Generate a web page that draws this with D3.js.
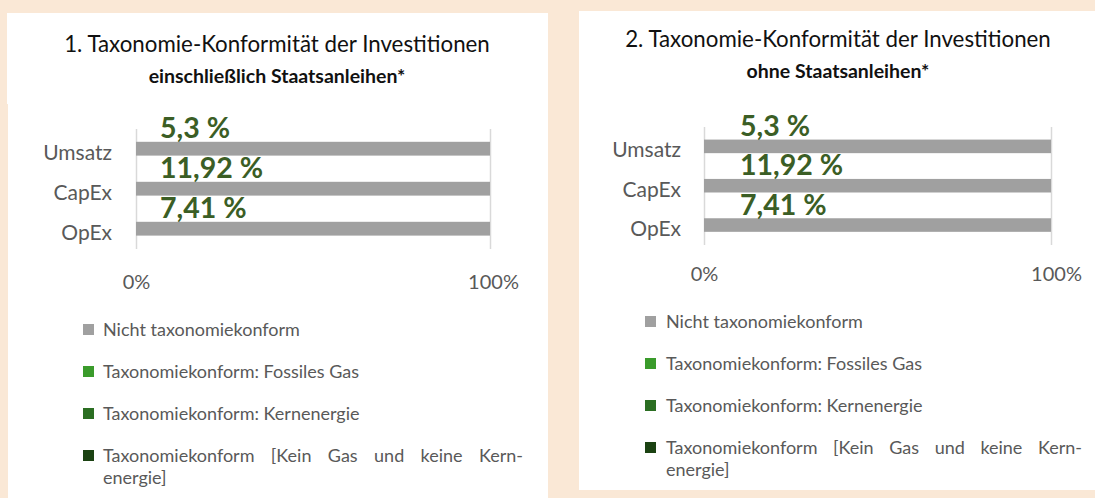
<!DOCTYPE html>
<html>
<head>
<meta charset="utf-8">
<script src="https://cdn.jsdelivr.net/npm/d3@7"></script>
<style>
  body { margin: 0; background: #fae8d6; }
  svg { display: block; font-family: Lato, "Open Sans", sans-serif; }
</style>
</head>
<body>
<svg id="chart" width="1095" height="498"></svg>
<script>
// chart data
const categories = ['Umsatz', 'CapEx', 'OpEx'];
const seriesKeys = ['nicht', 'gas', 'kern', 'rest'];
const nichtKonform = [100, 100, 100];
const fossilesGas = [0, 0, 0];
const kernenergie = [0, 0, 0];
const keinGasKern = [0, 0, 0];
const alignedLabels = ['5,3 %', '11,92 %', '7,41 %'];
const tickValues = [0, 100];
const legendLines = [
	['Nicht taxonomiekonform'],
	['Taxonomiekonform: Fossiles Gas'],
	['Taxonomiekonform: Kernenergie'],
	['Taxonomiekonform [Kein Gas und keine Kern-', 'energie]']
];
const titleLeft = ['1. Taxonomie-Konformität der Investitionen', 'einschließlich Staatsanleihen*'];
const titleRight = ['2. Taxonomie-Konformität der Investitionen', 'ohne Staatsanleihen*'];

const colors = ['#a0a0a0', '#3a9b2b', '#2b6e22', '#1b4212'];
const textGray = '#595959';

const rows = categories.map((c, i) => ({
	cat: c,
	nicht: nichtKonform[i],
	gas: fossilesGas[i],
	kern: kernenergie[i],
	rest: keinGasKern[i]
}));
const stacked = d3.stack().keys(seriesKeys)(rows);

const svg = d3.select('#chart');

function drawPanel(o) {
	const g = svg.append('g');

	// white boxes
	o.boxes.forEach(b => {
		g.append('rect')
			.attr('x', b[0]).attr('y', b[1])
			.attr('width', b[2] - b[0]).attr('height', b[3] - b[1])
			.attr('fill', '#fff');
	});

	// title
	g.append('text')
		.attr('x', o.cx).attr('y', o.titleY[0])
		.attr('text-anchor', 'middle')
		.attr('font-size', 22.3)
		.attr('fill', '#111')
		.text(o.title[0]);
	g.append('text')
		.attr('x', o.cx).attr('y', o.titleY[1])
		.attr('text-anchor', 'middle')
		.attr('font-size', 19.5)
		.attr('font-weight', 'bold')
		.attr('fill', '#111')
		.text(o.title[1]);

	const x = d3.scaleLinear().domain([0, 100]).range(o.xRange);
	const y = d3.scaleBand().domain(categories).range(o.yRange);
	const bw = y.bandwidth();

	// grid + tick labels
	const axis = g.append('g')
		.attr('transform', `translate(0,${o.yRange[1]})`)
		.call(d3.axisBottom(x)
			.tickValues(tickValues)
			.tickFormat(d => d + '%')
			.tickSize(-(o.yRange[1] - o.yRange[0]))
			.tickPadding(o.tickPad));
	axis.select('.domain').remove();
	axis.selectAll('line').attr('stroke', '#d9d9d9').attr('stroke-width', 1.5);
	axis.selectAll('text')
		.attr('font-size', 20)
		.attr('font-family', 'Lato, sans-serif')
		.attr('fill', textGray)
		.attr('dx', d => d === 100 ? o.tickShift : 0);

	// bars
	g.append('g').selectAll('g')
		.data(stacked)
		.join('g')
		.attr('fill', (d, i) => colors[i])
		.selectAll('rect')
		.data(d => d)
		.join('rect')
		.attr('x', d => x(d[0]))
		.attr('width', d => x(d[1]) - x(d[0]))
		.attr('y', d => y(d.data.cat) + bw * 0.32)
		.attr('height', bw * 0.345);

	// category labels
	g.append('g').selectAll('text')
		.data(categories)
		.join('text')
		.attr('x', o.catX)
		.attr('y', d => y(d) + bw * 0.77)
		.attr('text-anchor', 'end')
		.attr('font-size', 21)
		.attr('fill', textGray)
		.text(d => d);

	// value labels
	g.append('g').selectAll('text')
		.data(alignedLabels)
		.join('text')
		.attr('x', o.labelX)
		.attr('y', (d, i) => y(categories[i]) + bw * 0.225)
		.attr('font-size', 28.5)
		.attr('font-weight', 'bold')
		.attr('fill', '#3b5e25')
		.text(d => d);

	// legend
	let ly = o.legendY;
	legendLines.forEach((lines, i) => {
		g.append('rect')
			.attr('x', o.legendX).attr('y', ly - 12)
			.attr('width', 11).attr('height', 11)
			.attr('fill', colors[i]);
		lines.forEach((line, j) => {
			const lineY = ly + j * o.wrapStep;
			if (j < lines.length - 1) {
				// justified line
				const words = line.split(' ');
				const ts = words.map(w => g.append('text')
					.attr('y', lineY)
					.attr('font-size', 18)
					.attr('fill', textGray)
					.text(w));
				const widths = ts.map(t => t.node().getComputedTextLength());
				const gap = (o.legendRight - o.legendTextX - d3.sum(widths)) / (words.length - 1);
				let cx = o.legendTextX;
				ts.forEach((t, k) => { t.attr('x', cx); cx += widths[k] + gap; });
			} else {
				g.append('text')
					.attr('x', o.legendTextX).attr('y', lineY)
					.attr('font-size', 18)
					.attr('fill', textGray)
					.text(line);
			}
		});
		ly += o.legendStep;
	});
}

drawPanel({
	boxes: [[7, 13, 548, 104], [8, 103, 548, 498]],
	title: titleLeft,
	cx: 277,
	titleY: [52, 83],
	xRange: [136, 490],
	yRange: [129, 249],
	tickPad: 26,
	tickShift: 3,
	catX: 112,
	labelX: 160,
	legendX: 83,
	legendTextX: 103,
	legendRight: 523,
	legendY: 336,
	legendStep: 42,
	wrapStep: 22
});

drawPanel({
	boxes: [[579, 11, 1095, 490]],
	title: titleRight,
	cx: 838,
	titleY: [47, 78],
	xRange: [704, 1051],
	yRange: [127, 245],
	tickPad: 22,
	tickShift: 5,
	catX: 681,
	labelX: 740,
	legendX: 645,
	legendTextX: 666,
	legendRight: 1082,
	legendY: 328,
	legendStep: 42,
	wrapStep: 22
});
</script>
</body>
</html>
